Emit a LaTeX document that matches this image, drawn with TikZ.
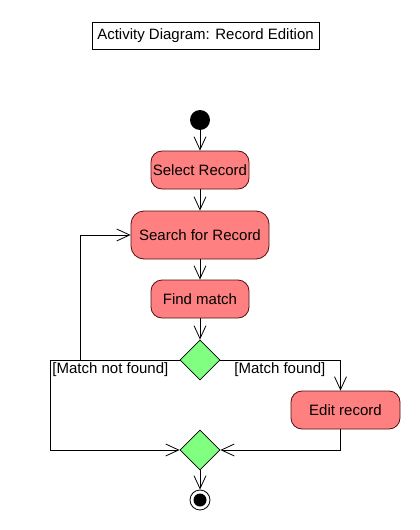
\documentclass[tikz,border=0pt]{standalone}
\usepackage{fontspec}
\setmainfont{Liberation Sans}
\usetikzlibrary{shapes.geometric,arrows.meta}
\definecolor{actfill}{RGB}{255,128,128}
\definecolor{actline}{RGB}{80,15,15}
\definecolor{decfill}{RGB}{128,255,128}
\tikzset{
    activity/.style={draw=actline, fill=actfill, rounded corners=11pt,
        minimum height=38pt, inner sep=0pt, font=\fontsize{15}{17}\selectfont},
    decision/.style={draw, fill=decfill, diamond, minimum size=40pt, inner sep=0pt},
    flow/.style={-{Straight Barb[length=13pt,width=12pt]}},
    guard/.style={font=\fontsize{15}{17}\selectfont, inner sep=0pt}
}
\begin{document}
\begin{tikzpicture}[x=1pt,y=-1pt,line width=0.8pt]

    \useasboundingbox (0,0) rectangle (420,530);

    % Title
    \node[draw,
        minimum width=227pt,
        minimum height=27pt,
        font=\fontsize{15}{17}\selectfont] (title) at (205.5,35.5) {Activity Diagram: Record Edition};

    % Initial node
    \node[circle, fill=black, minimum size=20pt, inner sep=0pt] (start) at (200,120) {};

    % Actions
    \node[activity, minimum width=98pt] (select) at (200,170) {Select Record};
    \node[activity, minimum width=138pt, minimum height=48pt, rounded corners=13pt] (search) at (200,235) {Search for Record};
    \node[activity, minimum width=98pt] (find) at (200,299) {Find match};
    \node[activity, minimum width=109pt] (edit) at (345.5,410) {Edit record};

    % Decision and merge
    \node[decision] (match) at (200,360) {};
    \node[decision] (merge) at (200,450) {};

    % Final node
    \node[circle, draw, minimum size=20pt, inner sep=0pt] (final) at (200,500) {};
    \fill (final.center) circle (6.5pt);

    % Corner points
    \coordinate (nf_out) at (50,360);
    \coordinate (loop) at (80,360);
    \coordinate (mf_out) at (340.5,360);

    % Flows
    \draw[flow] (start) -- (select);
    \draw[flow] (select) -- (search);
    \draw[flow] (search) -- (find);
    \draw[flow] (find) -- (match);
    \draw (match.west) -- (nf_out);
    \draw[flow] (nf_out) |- (merge.west);
    \draw[flow] (loop) |- (search.west);
    \draw (match.east) -- (mf_out);
    \draw[flow] (mf_out) -- (mf_out |- edit.north);
    \draw[flow] (edit.south -| mf_out) |- (merge.east);
    \draw[flow] (merge) -- (final);

    % Guards
    \node[guard, anchor=west] (notfound) at (52,370) {[Match not found]};
    \node[guard, anchor=west] (found) at (234,370) {[Match found]};

\end{tikzpicture}
\end{document}
